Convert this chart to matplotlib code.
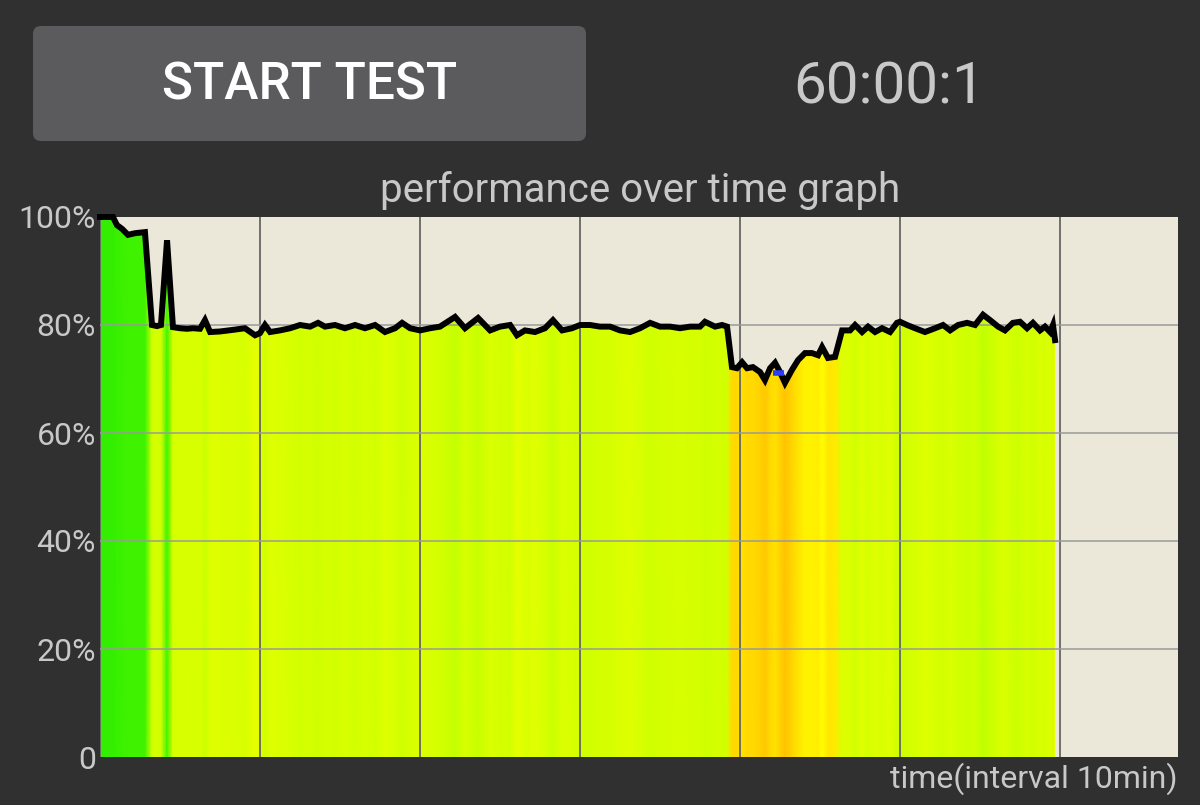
import numpy as np
import matplotlib
matplotlib.use("Agg")
from matplotlib import pyplot as plt
from matplotlib.colors import LinearSegmentedColormap
from matplotlib.patches import FancyBboxPatch, Polygon

plt.rcParams['font.family'] = ['Roboto', 'DejaVu Sans']

# performance samples (minutes, percent)
t_min = [0, 0.81, 1.06, 1.38, 1.75, 2.19, 2.81, 3.25, 3.56, 3.81, 4.19, 4.56, 5.0, 5.44,
         5.81, 6.25, 6.56, 6.88, 7.5, 8.31, 9.06, 9.69, 10.0, 10.31, 10.63, 11.25, 11.88,
         12.5, 13.13, 13.63, 14.06, 14.69, 15.31, 15.94, 16.56, 17.19, 17.81, 18.44, 18.88,
         19.38, 20.0, 20.63, 21.25, 22.19, 22.81, 23.63, 24.38, 25.0, 25.63, 26.06, 26.56,
         27.19, 27.81, 28.31, 28.88, 29.5, 30.0, 30.63, 31.25, 31.88, 32.5, 33.13, 33.75,
         34.38, 35.0, 35.63, 36.25, 36.88, 37.5, 37.81, 38.44, 38.88, 39.19, 39.5, 39.81,
         40.13, 40.44, 40.81, 41.25, 41.56, 41.88, 42.19, 42.5, 42.81, 43.25, 43.63, 44.06,
         44.5, 44.88, 45.13, 45.5, 45.94, 46.38, 46.88, 47.19, 47.63, 48.0, 48.44, 48.88,
         49.38, 49.81, 50.0, 50.44, 50.94, 51.56, 52.19, 52.69, 53.13, 53.63, 54.19, 54.69,
         55.19, 55.63, 56.13, 56.56, 57.06, 57.5, 57.94, 58.31, 58.75, 59.06, 59.38, 59.56,
         59.69]
perf = [100, 100, 98.5, 97.8, 96.7, 97, 97.2, 80, 79.8, 80, 95.7, 79.6, 79.4, 79.3,
        79.4, 79.3, 80.9, 78.7, 78.8, 79.1, 79.4, 78.1, 78.5, 80, 78.7, 79, 79.4,
        80, 79.7, 80.4, 79.7, 80, 79.4, 80, 79.4, 80, 78.7, 79.4, 80.4,
        79.4, 79, 79.4, 79.7, 81.5, 79.4, 81.3, 79, 79.7, 80, 78.1, 79,
        78.7, 79.4, 80.9, 79, 79.4, 80, 80, 79.7, 79.7, 79, 78.7, 79.4,
        80.4, 79.7, 79.7, 79.4, 79.7, 79.7, 80.6, 79.7, 80, 79.7, 72.2, 72,
        73.1, 72, 72.2, 71.3, 69.8, 72, 73, 71.3, 69.3, 71.7, 73.5, 74.8,
        74.8, 74.4, 75.9, 73.9, 74.1, 79, 79, 80, 78.7, 79.7, 78.7, 79.4,
        78.7, 80.4, 80.6, 80, 79.4, 78.7, 79.4, 80, 79, 80, 80.4, 80,
        81.9, 80.9, 79.7, 79, 80.4, 80.6, 79.4, 80.4, 79, 79.7, 78.7, 80,
        77.2]
# small blue mark near the dip
mark_t = [42.05, 42.75]
mark_v = [71.1, 71.1]

y_ticks = [0, 20, 40, 60, 80, 100]
y_labels = ['0', '20%', '40%', '60%', '80%', '100%']
x_grid = [0, 10, 20, 30, 40, 50, 60]

bg = '#303030'
txt = '#c8c8c8'

fig = plt.figure(figsize=(12, 8.05), dpi=100, facecolor=bg)

# overlay in pixel coordinates for the app widgets
ov = fig.add_axes([0, 0, 1, 1])
ov.set_xlim(0, 1200)
ov.set_ylim(805, 0)
ov.axis('off')
btn = FancyBboxPatch((33, 26), 553, 115, boxstyle='round,pad=0,rounding_size=8',
                     facecolor='#5b5b5d', edgecolor='none')
ov.add_patch(btn)
ov.text(310, 86, 'START TEST', color='white', fontsize=37, fontweight='medium',
        ha='center', va='center')
ov.text(889, 88, '60:00:1', color=txt, fontsize=42, ha='center', va='center')
ov.text(640, 191, 'performance over time graph', color=txt, fontsize=29,
        ha='center', va='center')
ov.text(1178, 779, 'time(interval 10min)', color=txt, fontsize=23,
        ha='right', va='center')

ax = fig.add_axes([100 / 1200, 48 / 805, 1078 / 1200, 540 / 805])
ax.set_facecolor('#ebe8da')
ax.set_xlim(0, 67.375)
ax.set_ylim(0, 100)
for s in ax.spines.values():
    s.set_visible(False)
ax.set_xticks([])
ax.set_yticks(y_ticks)
ax.set_yticklabels(y_labels)
ax.tick_params(axis='y', length=0, pad=3, labelsize=23, labelcolor=txt)

# colour under the curve follows the value
cmap = LinearSegmentedColormap.from_list('perf', [
    (0.00, '#ffbc00'), (0.094, '#ffd000'), (0.19, '#ffea00'), (0.25, '#ffff00'),
    (0.34, '#dcff00'), (0.40, '#ccff00'), (0.62, '#80ff00'), (0.84, '#48f500'),
    (1.00, '#33ee00')])
t = np.array(t_min)
v = np.array(perf)
X = np.vstack([t, t])
Y = np.vstack([np.zeros_like(v), np.full_like(v, 100)])
C = np.vstack([v, v])
mesh = ax.pcolormesh(X, Y, C, cmap=cmap, vmin=68, vmax=100, shading='gouraud', zorder=1)
clip = Polygon(np.column_stack([np.r_[t[0], t, t[-1]], np.r_[0, v, 0]]),
               closed=True, transform=ax.transData)
mesh.set_clip_path(clip)

for x in x_grid:
    ax.axvline(x, color='#666666', lw=1.3, zorder=1.5)
for y in y_ticks[1:-1]:
    ax.axhline(y, color='#9a9a9a', lw=1.1, zorder=1.5)

ax.plot(t, v, color='black', lw=4.3, zorder=3, clip_on=False, solid_joinstyle='miter')
ax.plot(mark_t, mark_v, color='#2a3cff', lw=4, zorder=4, solid_capstyle='butt')

fig.savefig('out.png', dpi=100, facecolor=bg)
